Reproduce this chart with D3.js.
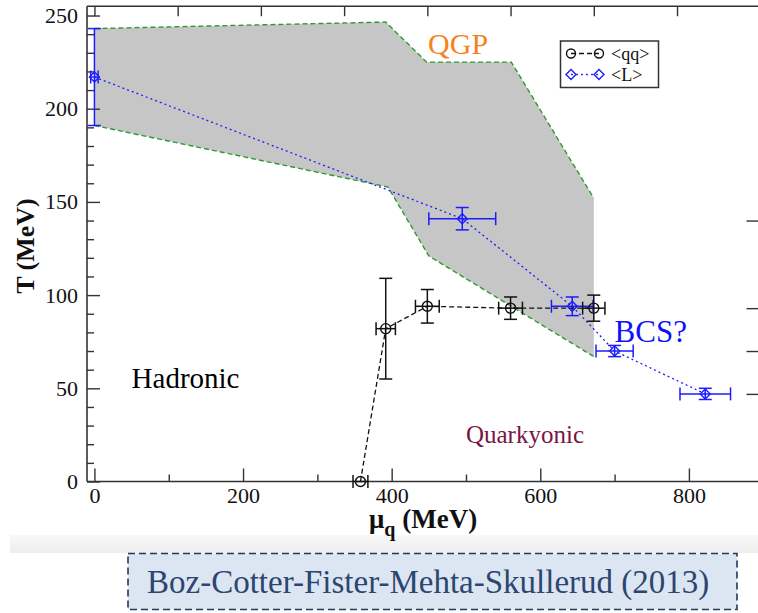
<!DOCTYPE html>
<html>
<head>
<meta charset="utf-8">
<script src="https://cdn.jsdelivr.net/npm/d3@7"></script>
<style>
  html, body { margin: 0; padding: 0; background: #ffffff; }
  svg { display: block; }
  svg text { font-family: "Liberation Serif", "Times New Roman", serif !important; }
</style>
</head>
<body>
<svg id="chart" width="758" height="613"></svg>
<script>
// <qq> condensate transition points (mu_q, T) with errors
const qqMu    = [358, 392, 448, 560, 672];
const qqT     = [0, 82, 94, 93, 93];
const qqMuErr = [10, 13, 16, 16, 15];
const qqTErr  = [0, 27, 9, 6, 7];

// Polyakov loop <L> transition points
const lMu    = [0, 495, 643, 700, 822];
const lT     = [217, 141, 94, 70, 47];
const lMuErr = [5, 45, 28, 25, 34];
const lTErr  = [26, 6, 5, 3, 3];

// QGP crossover band: upper and lower edges
const bandUpperMu = [0, 392, 447, 561, 672];
const bandUpperT  = [243, 246.5, 225, 225, 152];
const bandLowerMu = [0, 395, 450, 672];
const bandLowerT  = [191, 158, 121, 67];

// axis ticks
const xMajorTicks = [0, 200, 400, 600, 800];
const xMinorTicks = [100, 300, 500, 700];
const yMajorTicks = [0, 50, 100, 150, 200, 250];
const yMinorTicks = [10, 20, 30, 40, 60, 70, 80, 90, 110, 120, 130, 140, 160, 170, 180, 190, 210, 220, 230, 240];
const topTicks    = [0, 112, 224, 336, 448, 560, 672, 784];
const rightTicks  = [140, 93, 70, 47];

const SERIF = '"Liberation Serif", "Times New Roman", serif';
const svg = d3.select("#chart");

const x = d3.scaleLinear().domain([-10, 895]).range([87, 759.5]);
const y = d3.scaleLinear().domain([0, 255]).range([481.5, 6.2]);

// soft grey strip under the plot
const defs = svg.append("defs");
const grad = defs.append("linearGradient").attr("id", "strip").attr("x1", 0).attr("y1", 0).attr("x2", 0).attr("y2", 1);
grad.append("stop").attr("offset", "0%").attr("stop-color", "#f8f8f8");
grad.append("stop").attr("offset", "100%").attr("stop-color", "#eeeeee");
svg.append("rect").attr("x", 10).attr("y", 535).attr("width", 748).attr("height", 18).attr("fill", "url(#strip)");

// QGP band
const bandPts = bandUpperMu.map((m, i) => [m, bandUpperT[i]])
  .concat(bandLowerMu.map((m, i) => [m, bandLowerT[i]]).reverse());
svg.append("path")
  .attr("d", d3.line().x(d => x(d[0])).y(d => y(d[1]))(bandPts) + "Z")
  .attr("fill", "#c6c6c6");

const edgeLine = d3.line().x(d => x(d[0])).y(d => y(d[1]));
[[bandUpperMu, bandUpperT], [bandLowerMu, bandLowerT]].forEach(([ms, ts]) => {
  svg.append("path")
    .attr("d", edgeLine(ms.map((m, i) => [m, ts[i]])))
    .attr("fill", "none").attr("stroke", "#2f9a2f").attr("stroke-width", 1.4)
    .attr("stroke-dasharray", "5,3");
});

// frame
const frame = svg.append("g");
frame.append("line").attr("x1", 87).attr("x2", 87).attr("y1", y(255)).attr("y2", y(0));
frame.append("line").attr("x1", 87).attr("x2", 760).attr("y1", y(0)).attr("y2", y(0));
frame.append("line").attr("x1", 87).attr("x2", 760).attr("y1", y(255)).attr("y2", y(255));
frame.selectAll("line").attr("stroke", "#333").attr("stroke-width", 1.6);

function styleAxis(g) {
  g.attr("font-family", SERIF);
  g.select(".domain").remove();
  g.selectAll(".tick line").attr("stroke", "#333").attr("stroke-width", 1.4);
  g.selectAll(".tick text").style("font-family", SERIF).attr("font-size", 22).attr("fill", "#111");
}

svg.append("g").attr("transform", `translate(0,${y(0)})`)
  .call(d3.axisBottom(x).tickValues(xMajorTicks).tickSize(-13).tickPadding(6).tickFormat(d3.format("d")))
  .call(styleAxis);
svg.append("g").attr("transform", `translate(0,${y(0)})`)
  .call(d3.axisBottom(x).tickValues(xMinorTicks).tickSize(-7).tickFormat(""))
  .call(styleAxis);
svg.append("g").attr("transform", `translate(87,0)`)
  .call(d3.axisLeft(y).tickValues(yMajorTicks).tickSize(-13).tickPadding(9).tickFormat(d3.format("d")))
  .call(styleAxis);
svg.append("g").attr("transform", `translate(87,0)`)
  .call(d3.axisLeft(y).tickValues(yMinorTicks).tickSize(-7).tickFormat(""))
  .call(styleAxis);
svg.append("g").attr("transform", `translate(0,${y(255)})`)
  .call(d3.axisTop(x).tickValues(topTicks).tickSize(-10).tickFormat(""))
  .call(styleAxis);
svg.append("g").attr("transform", `translate(759.5,0)`)
  .call(d3.axisRight(y).tickValues(rightTicks).tickSize(-13).tickFormat(""))
  .call(styleAxis);

// axis titles
const xTitle = svg.append("text").attr("x", 369).attr("y", 528)
  .style("font-family", SERIF)
  .attr("font-size", 27).attr("font-weight", "bold").attr("fill", "#111");
xTitle.append("tspan").text("μ");
xTitle.append("tspan").attr("font-size", 20).attr("dy", 8).text("q");
xTitle.append("tspan").attr("dy", -8).text(" (MeV)");

svg.append("text")
  .attr("transform", "translate(34,246) rotate(-90)")
  .attr("text-anchor", "middle")
  .style("font-family", SERIF)
  .attr("font-size", 26).attr("font-weight", "bold").attr("fill", "#111")
  .text("T (MeV)");

// series
function drawSeries(mu, t, muErr, tErr, color, dash, marker) {
  const pts = mu.map((m, i) => ({ m, t: t[i], me: muErr[i], te: tErr[i] }));
  const g = svg.append("g");
  g.append("path")
    .attr("d", d3.line().x(d => x(d.m)).y(d => y(d.t))(pts))
    .attr("fill", "none").attr("stroke", color).attr("stroke-width", 1.3)
    .attr("stroke-dasharray", dash);
  const cap = 6.5;
  pts.forEach(d => {
    const cx = x(d.m), cy = y(d.t);
    const eb = g.append("g").attr("stroke", color).attr("stroke-width", 1.5).attr("fill", "none");
    if (d.te > 0) {
      eb.append("line").attr("x1", cx).attr("x2", cx).attr("y1", y(d.t + d.te)).attr("y2", y(d.t - d.te));
      eb.append("line").attr("x1", cx - cap).attr("x2", cx + cap).attr("y1", y(d.t + d.te)).attr("y2", y(d.t + d.te));
      eb.append("line").attr("x1", cx - cap).attr("x2", cx + cap).attr("y1", y(d.t - d.te)).attr("y2", y(d.t - d.te));
    }
    if (d.me > 0) {
      eb.append("line").attr("x1", x(d.m - d.me)).attr("x2", x(d.m + d.me)).attr("y1", cy).attr("y2", cy);
      eb.append("line").attr("x1", x(d.m - d.me)).attr("x2", x(d.m - d.me)).attr("y1", cy - cap).attr("y2", cy + cap);
      eb.append("line").attr("x1", x(d.m + d.me)).attr("x2", x(d.m + d.me)).attr("y1", cy - cap).attr("y2", cy + cap);
    }
    marker(g, cx, cy);
  });
}

const circleMarker = color => (g, cx, cy) =>
  g.append("circle").attr("cx", cx).attr("cy", cy).attr("r", 5)
    .attr("fill", "none").attr("stroke", color).attr("stroke-width", 1.4);
const diamondMarker = color => (g, cx, cy) =>
  g.append("path").attr("d", `M${cx},${cy - 5}L${cx + 5},${cy}L${cx},${cy + 5}L${cx - 5},${cy}Z`)
    .attr("fill", "none").attr("stroke", color).attr("stroke-width", 1.4);

drawSeries(lMu, lT, lMuErr, lTErr, "#1c1cff", "2,3", diamondMarker("#1c1cff"));
drawSeries(qqMu, qqT, qqMuErr, qqTErr, "#111", "5,3", circleMarker("#111"));

// region labels
function label(mu, t, size, color, str) {
  svg.append("text").attr("x", x(mu)).attr("y", y(t))
    .style("font-family", SERIF).attr("font-size", size).attr("fill", color).text(str);
}
label(449, 229.6, 30, "#f5821f", "QGP");
label(700, 75, 31, "#1010ff", "BCS?");
label(50, 50, 29, "#000", "Hadronic");
label(500, 20.5, 25, "#7a1448", "Quarkyonic");

// legend
const lg = svg.append("g");
lg.append("rect").attr("x", 560.5).attr("y", 41).attr("width", 98).attr("height", 46.5)
  .attr("fill", "#fff").attr("stroke", "#333").attr("stroke-width", 1.5);
lg.append("line").attr("x1", 571).attr("x2", 599).attr("y1", 53.5).attr("y2", 53.5)
  .attr("stroke", "#111").attr("stroke-width", 1.3).attr("stroke-dasharray", "5,3");
circleMarker("#111")(lg, 571, 53.5).attr("r", 4.5);
circleMarker("#111")(lg, 599, 53.5).attr("r", 4.5);
lg.append("line").attr("x1", 571).attr("x2", 599).attr("y1", 74.5).attr("y2", 74.5)
  .attr("stroke", "#3030ff").attr("stroke-width", 1.3).attr("stroke-dasharray", "2,3");
diamondMarker("#1c1cff")(lg, 571, 74.5);
diamondMarker("#1c1cff")(lg, 599, 74.5);
lg.append("text").attr("x", 611).attr("y", 59.5).style("font-family", SERIF)
  .attr("font-size", 18).attr("fill", "#111").text("<qq>");
lg.append("text").attr("x", 611).attr("y", 80.5).style("font-family", SERIF)
  .attr("font-size", 18).attr("fill", "#111").text("<L>");

// citation box
svg.append("rect").attr("x", 128).attr("y", 553.5).attr("width", 609).attr("height", 56)
  .attr("fill", "#dce6f2").attr("stroke", "#1f3a5f").attr("stroke-width", 1.6)
  .attr("stroke-dasharray", "7,4");
svg.append("text").attr("x", 147).attr("y", 593).style("font-family", SERIF)
  .attr("font-size", 33).attr("fill", "#2c4670")
  .text("Boz-Cotter-Fister-Mehta-Skullerud (2013)");
</script>
</body>
</html>
